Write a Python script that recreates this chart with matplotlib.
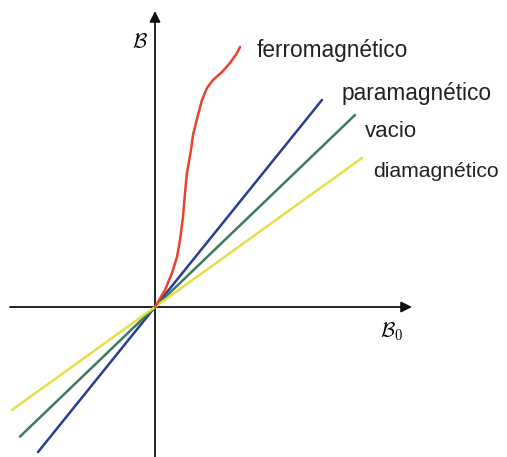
import numpy as np
import matplotlib.pyplot as plt

# B = mu * B0 for the linear materials (slopes), plus extent of each line
labels = ["paramagnético", "vacio", "diamagnético"]
slopes = [1.24, 0.96, 0.72]
x_low = [-1.17, -1.35, -1.43]
x_high = [1.67, 2.00, 2.07]
colors = ["#2b3c93", "#3d7a5e", "#e6df45"]

# ferromagnetic magnetisation curve (B0, B)
ferro_b0 = [0.0, 0.03, 0.10, 0.17, 0.22, 0.25, 0.28, 0.30, 0.32, 0.36,
            0.38, 0.43, 0.47, 0.52, 0.58, 0.67, 0.75, 0.82, 0.85]
ferro_b = [0.0, 0.05, 0.17, 0.34, 0.50, 0.67, 0.90, 1.14, 1.34, 1.57,
           1.72, 1.92, 2.07, 2.19, 2.27, 2.35, 2.44, 2.54, 2.60]

# label: (x, baseline y, font size)
label_pos = {
    "ferromagnético": (1.02, 2.50, 16.3),
    "paramagnético": (1.87, 2.07, 16.3),
    "vacio": (2.10, 1.70, 16),
    "diamagnético": (2.18, 1.30, 15.2),
}


def draw_axes(ax):
    arrow = dict(arrowstyle='-|>', mutation_scale=16, color='#111111', lw=1.3,
                 shrinkA=0, shrinkB=0)
    ax.annotate('', xy=(0, 2.96), xytext=(0, -1.52), arrowprops=arrow)
    ax.annotate('', xy=(2.57, 0), xytext=(-1.45, 0), arrowprops=arrow)
    ax.text(-0.15, 2.64, r'$\mathcal{B}$', fontsize=15, ha='center', va='center')
    ax.text(2.37, -0.25, r'$\mathcal{B}_0$', fontsize=15, ha='center', va='center')


def main():
    plt.rcParams['font.family'] = ['Liberation Sans', 'DejaVu Sans']
    plt.rcParams['mathtext.fontset'] = 'cm'
    fig = plt.figure(figsize=(5.07, 4.57), dpi=100)
    ax = fig.add_axes([0, 0, 1, 1])
    ax.set_xlim(-1.55, 3.52)
    ax.set_ylim(-1.50, 3.07)
    ax.axis('off')

    draw_axes(ax)

    for s, lo, hi, c in zip(slopes, x_low, x_high, colors):
        xs = np.array([lo, hi])
        ax.plot(xs, s * xs, color=c, lw=1.8, solid_capstyle='round', zorder=3)

    ax.plot(ferro_b0, ferro_b, color='#e8432c', lw=1.8, zorder=3,
            solid_joinstyle='round', solid_capstyle='round')

    for name, (x, y, size) in label_pos.items():
        ax.text(x, y, name, fontsize=size, color='#222222', va='baseline', ha='left')

    fig.savefig("out.png", dpi=100)


if __name__ == '__main__':
    main()
